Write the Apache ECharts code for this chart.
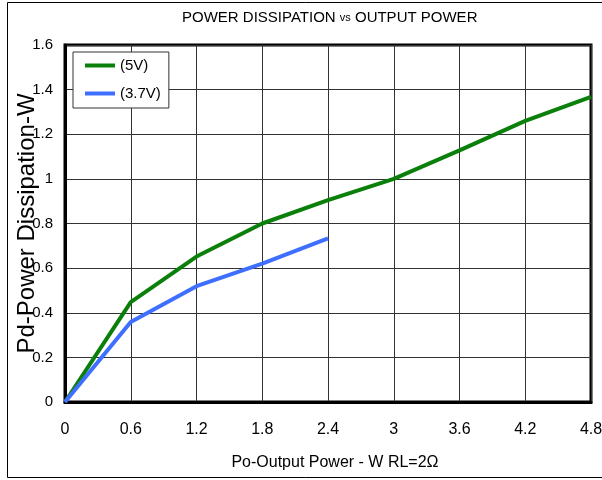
<!DOCTYPE html>
<html>
<head>
<meta charset="utf-8">
<script src="https://cdn.jsdelivr.net/npm/echarts@6/dist/echarts.min.js"></script>
<style>
html,body{margin:0;padding:0;background:#fff;}
#chart{width:602px;height:480px;}
</style>
</head>
<body>
<div id="chart"></div>
<script>
var xValues = [0, 0.6, 1.2, 1.8, 2.4, 3.0, 3.6, 4.2, 4.8];
var pd5V = [0, 0.448, 0.652, 0.80, 0.905, 1.0, 1.128, 1.26, 1.368];
var xValues37 = [0, 0.6, 1.2, 1.8, 2.4];
var pd37V = [0, 0.359, 0.519, 0.62, 0.733];
var seriesNames = ['(5V)', '(3.7V)'];
var xAxisName = 'Po-Output Power - W RL=2\u03A9';
var yAxisName = 'Pd-Power Dissipation-W';

var FONT = '"Liberation Sans", Arial, sans-serif';

function pairs(xs, ys) { return xs.map(function (x, i) { return [x, ys[i]]; }); }
function fmt(v) { return String(+(+v).toFixed(1)); }

var chart = echarts.init(document.getElementById('chart'), null, { renderer: 'canvas' });
chart.setOption({
  backgroundColor: '#fff',
  animation: false,
  title: {
    text: '{a|POWER DISSIPATION }{b|vs}{a| OUTPUT POWER}',
    left: 182, top: 10, padding: 0,
    textStyle: {
      fontWeight: 'normal',
      rich: {
        a: { fontFamily: FONT, fontSize: 15, fontWeight: 'normal', color: '#000' },
        b: { fontFamily: FONT, fontSize: 11, fontWeight: 'normal', color: '#000' }
      }
    }
  },
  graphic: [{
    type: 'rect', z: 100, silent: true,
    shape: { x: 7.5, y: 2.5, width: 600, height: 475 },
    style: { fill: 'none', stroke: '#000', lineWidth: 1 }
  }],
  legend: {
    orient: 'vertical', left: 73, top: 52,
    padding: [6, 8, 7, 12],
    itemGap: 13, itemWidth: 30, itemHeight: 4, icon: 'rect',
    backgroundColor: '#fff', borderColor: '#333', borderWidth: 1,
    textStyle: { fontFamily: FONT, fontSize: 15, color: '#000' },
    data: seriesNames
  },
  grid: {
    left: 65, right: 11, top: 45, bottom: 78,
    outerBoundsMode: 'none', containLabel: false,
    show: true, borderColor: '#000', borderWidth: 3, backgroundColor: 'transparent'
  },
  xAxis: {
    type: 'value', min: 0, max: 4.8, interval: 0.6,
    name: xAxisName, nameLocation: 'middle', nameGap: 53, nameMoveOverlap: false,
    nameTextStyle: { fontFamily: FONT, fontSize: 16, color: '#000', padding: [0, 0, 0, 14] },
    axisLine: { show: true, onZero: false, lineStyle: { color: '#000', width: 3 } },
    axisTick: { show: false },
    axisLabel: { margin: 20, fontFamily: FONT, fontSize: 16, color: '#000', formatter: fmt },
    splitLine: { show: true, lineStyle: { color: '#333', width: 1 } }
  },
  yAxis: {
    type: 'value', min: 0, max: 1.6, interval: 0.2,
    name: yAxisName, nameLocation: 'middle', nameGap: 26, nameMoveOverlap: false,
    nameTextStyle: { fontFamily: FONT, fontSize: 24, color: '#000' },
    axisLine: { show: true, lineStyle: { color: '#000', width: 3 } },
    axisTick: { show: false },
    axisLabel: { margin: 12, fontFamily: FONT, fontSize: 15, color: '#000', formatter: fmt },
    splitLine: { show: true, lineStyle: { color: '#333', width: 1 } }
  },
  series: [{
    name: seriesNames[0], type: 'line', symbol: 'none', z: 3,
    data: pairs(xValues, pd5V),
    lineStyle: { color: '#0a800a', width: 4 }, itemStyle: { color: '#0a800a' }
  }, {
    name: seriesNames[1], type: 'line', symbol: 'none', z: 3,
    data: pairs(xValues37, pd37V),
    lineStyle: { color: '#3f6fff', width: 4 }, itemStyle: { color: '#3f6fff' }
  }]
});
</script>
</body>
</html>
